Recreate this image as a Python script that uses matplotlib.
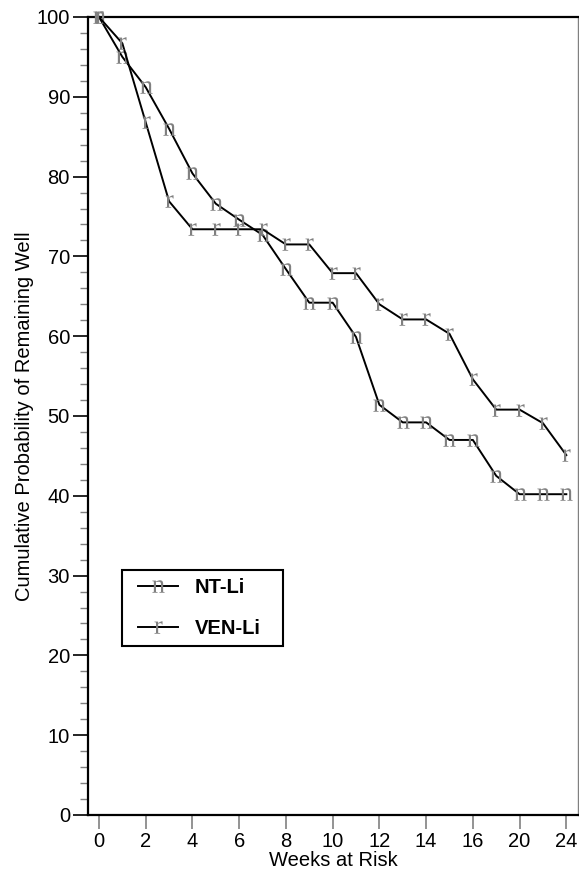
import matplotlib
matplotlib.use("Agg")
import matplotlib.pyplot as plt
from matplotlib.patches import Rectangle
import numpy as np

plt.rcParams['font.family'] = ['Liberation Sans', 'DejaVu Sans']
plt.rcParams['mathtext.fontset'] = 'custom'
plt.rcParams['mathtext.rm'] = 'Liberation Serif'

# Category positions (weeks at risk, equally spaced categories)
positions = list(range(21))
tick_positions = [0, 2, 4, 6, 8, 10, 12, 14, 16, 18, 20]
tick_labels = ['0', '2', '4', '6', '8', '10', '12', '14', '16', '20', '24']

nt_li = [100, 95.0, 91.2, 86.0, 80.4, 76.6, 74.6, 72.7, 68.4, 64.2, 64.2,
         59.9, 51.4, 49.2, 49.2, 47.0, 47.0, 42.5, 40.2, 40.2, 40.2]
ven_li = [100, 96.7, 86.8, 76.9, 73.4, 73.4, 73.4, 73.4, 71.5, 71.5, 67.9,
          67.9, 64.0, 62.1, 62.1, 60.3, 54.6, 50.8, 50.8, 49.1, 45.1]

fig = plt.figure(figsize=(5.79, 8.75), dpi=100)
ax = fig.add_axes([88/579, 1 - 815/875, 490/579, 798/875])

grey = '#808080'
ax.plot(positions, nt_li, color='black', lw=1.4, marker=r'$\mathrm{n}$',
        markersize=9, markerfacecolor=grey, markeredgecolor=grey,
        markeredgewidth=0, label='NT-Li', clip_on=False, zorder=3)
ax.plot(positions, ven_li, color='black', lw=1.4, marker=r'$\mathrm{r}$',
        markersize=9, markerfacecolor=grey, markeredgecolor=grey,
        markeredgewidth=0, label='VEN-Li', clip_on=False, zorder=3)

ax.set_xlim(-0.47, 20.5)
ax.set_ylim(0, 100)
ax.set_xticks(tick_positions)
ax.set_xticklabels(tick_labels)
ax.set_yticks(np.arange(0, 101, 10))
ax.set_yticks(np.arange(0, 101, 2), minor=True)

ax.tick_params(axis='both', labelsize=14.5, direction='out')
ax.tick_params(axis='y', which='major', length=11, width=1.2, color='black', pad=2)
ax.tick_params(axis='y', which='minor', length=6, width=1.0, color=grey)
ax.tick_params(axis='x', which='major', length=10, width=1.2, color=grey, pad=2)

ax.spines['left'].set_linewidth(1.6)
ax.spines['bottom'].set_linewidth(1.6)
ax.spines['top'].set_linewidth(1.6)
ax.spines['right'].set_linewidth(1.0)
ax.spines['right'].set_color(grey)

ax.set_xlabel('Weeks at Risk', fontsize=14.5, labelpad=0)
ax.set_ylabel('Cumulative Probability of Remaining Well', fontsize=14.5, labelpad=2)

leg = ax.legend(loc='center left', bbox_to_anchor=(0.0857, 0.2594),
                borderaxespad=0, frameon=False, handlelength=2.0,
                handletextpad=0.8, labelspacing=1.05, borderpad=0.4,
                prop={'weight': 'bold', 'size': 14.5})
ax.add_patch(Rectangle((0.0694, 0.2118), 0.3286, 0.0952, transform=ax.transAxes,
                       fill=False, edgecolor='black', linewidth=1.5, zorder=5))

fig.savefig('out.png', dpi=100)
